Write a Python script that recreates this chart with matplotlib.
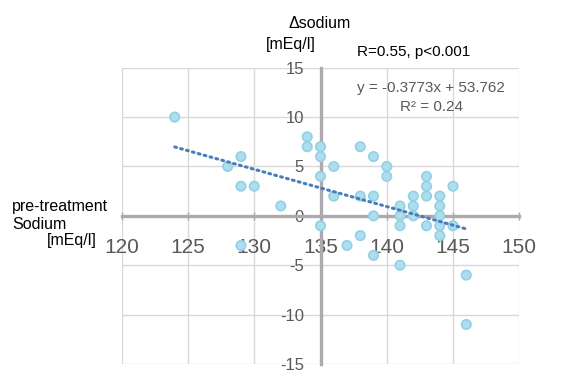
import matplotlib
matplotlib.use("Agg")
import matplotlib.pyplot as plt
import numpy as np

plt.rcParams['font.family'] = ['Liberation Sans', 'DejaVu Sans']

# Data
pre_sodium = [124, 128, 129, 129, 129, 130, 132, 134, 134, 135, 135, 135, 135,
              136, 136, 137, 138, 138, 138, 139, 139, 139, 139, 140, 140,
              141, 141, 141, 141, 142, 142, 142, 143, 143, 143, 143,
              144, 144, 144, 144, 144, 145, 145, 146, 146]
delta_sodium = [10, 5, 6, 3, -3, 3, 1, 8, 7, 7, 6, 4, -1,
                5, 2, -3, 7, 2, -2, 6, 2, 0, -4, 5, 4,
                1, 0, -1, -5, 2, 1, 0, 4, 3, 2, -1,
                2, 1, 0, -1, -2, 3, -1, -6, -11]
trend_slope = -0.3773
trend_intercept = 53.762
r_squared = 0.24
x_ticks = [120, 125, 130, 135, 140, 145, 150]
y_ticks = [-15, -10, -5, 0, 5, 10, 15]

W, H = 577, 381
fig = plt.figure(figsize=(W / 100, H / 100), dpi=100)
fig.patch.set_facecolor('white')

def fx(px):
    return px / W

def fy(py):
    return 1 - py / H

ax = fig.add_axes([fx(121.7), fy(364), fx(519.3) - fx(121.7), fy(67.7) - fy(364)])
ax.set_xlim(120, 150)
ax.set_ylim(-15, 15)
ax.set_xticks(x_ticks)
ax.set_yticks(y_ticks)
ax.grid(True, color='#d9d9d9', linewidth=1)
ax.set_axisbelow(True)

for side in ['top', 'right']:
    ax.spines[side].set_visible(False)
ax.spines['left'].set_position(('data', 135))
ax.spines['bottom'].set_position(('data', 0))
for side in ['left', 'bottom']:
    ax.spines[side].set_color('#aea9ae')
    ax.spines[side].set_linewidth(2.4)
    ax.spines[side].set_zorder(1.5)

ax.tick_params(axis='x', direction='inout', length=6, color='#aea9ae', width=1,
               labelsize=15, labelcolor='#595959', pad=13)
ax.tick_params(axis='y', direction='inout', length=0, color='#aea9ae', width=1,
               labelsize=12, labelcolor='#595959', pad=12)
ax.set_xticklabels([str(t) for t in x_ticks])
ax.set_yticklabels([str(t) for t in y_ticks])

# scatter points (sphere-like look)
ax.scatter(pre_sodium, delta_sodium, s=64, color='#93d1e5', edgecolors='none', zorder=3)
ax.scatter(pre_sodium, delta_sodium, s=30, color='#b3e1ef', edgecolors='none',
           alpha=0.85, zorder=3.1)

# trend line
xt = np.array([min(pre_sodium), max(pre_sodium)], dtype=float)
ax.plot(xt, trend_slope * xt + trend_intercept, color='#4a7ebb', linewidth=2.2,
        linestyle=(0, (0.6, 1.4)), dash_capstyle='round', zorder=4)

# texts
fig.text(fx(320), fy(24), 'Δsodium', ha='center', va='center', fontsize=11.5, color='black')
fig.text(fx(291), fy(44), '[mEq/l]', ha='center', va='center', fontsize=11.5, color='black')
fig.text(fx(414), fy(52), 'R=0.55, p<0.001', ha='center', va='center', fontsize=11, color='black')
fig.text(fx(431), fy(88), f'y = {trend_slope}x + {trend_intercept}', ha='center', va='center',
         fontsize=11, color='#595959')
fig.text(fx(432), fy(107), f'R² = {r_squared}', ha='center', va='center',
         fontsize=11, color='#595959')
fig.text(fx(12), fy(206), 'pre-treatment', ha='left', va='center', fontsize=11.5, color='black')
fig.text(fx(12), fy(225), 'Sodium', ha='left', va='center', fontsize=11.5, color='black')
fig.text(fx(47), fy(241), '[mEq/l]', ha='left', va='center', fontsize=11.5, color='black')

fig.savefig('out.png', dpi=100, facecolor='white')
